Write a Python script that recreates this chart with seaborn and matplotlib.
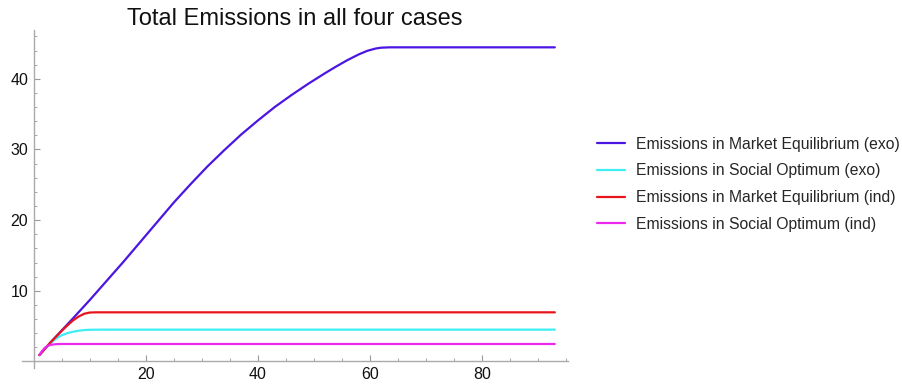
import numpy as np
import pandas as pd
import matplotlib
matplotlib.use("Agg")
import matplotlib.pyplot as plt
import seaborn as sns
from matplotlib.ticker import MultipleLocator

# ---- data ----
me_exo_x = [1, 3, 5, 7, 10, 13, 16, 19, 22, 25, 28, 31, 34, 37, 40, 43, 46, 49, 52, 54, 56, 58, 59.5, 61, 62, 63.5, 93]
me_exo_y = [0.9, 2.7, 4.4, 6.1, 8.7, 11.4, 14.1, 16.9, 19.7, 22.5, 25.1, 27.6, 29.9, 32.1, 34.1, 36.0, 37.7, 39.3, 40.8, 41.75, 42.65, 43.45, 43.95, 44.28, 44.4, 44.45, 44.45]

so_exo_x = [1, 2, 3, 4, 5, 6, 7, 8, 9, 10, 12, 93]
so_exo_y = [0.9, 1.85, 2.6, 3.25, 3.72, 4.0, 4.2, 4.35, 4.44, 4.48, 4.5, 4.5]

me_ind_x = [1, 3, 5, 6, 7, 8, 9, 10, 11, 93]
me_ind_y = [0.9, 2.7, 4.35, 5.1, 5.8, 6.35, 6.75, 6.92, 6.95, 6.95]

so_ind_x = [1, 1.5, 2, 2.5, 3, 4, 5, 93]
so_ind_y = [0.9, 1.5, 1.95, 2.2, 2.35, 2.45, 2.47, 2.47]

labels = [
    "Emissions in Market Equilibrium (exo)",
    "Emissions in Social Optimum (exo)",
    "Emissions in Market Equilibrium (ind)",
    "Emissions in Social Optimum (ind)",
]
title = "Total Emissions in all four cases"

colors = ["#4B16E2", "#3FEEF2", "#E8141C", "#EC28EC"]

series = [(me_exo_x, me_exo_y), (so_exo_x, so_exo_y), (me_ind_x, me_ind_y), (so_ind_x, so_ind_y)]
frames = []
for lab, (xs, ys) in zip(labels, series):
    frames.append(pd.DataFrame({"t": xs, "E": ys, "case": lab}))
df = pd.concat(frames, ignore_index=True)

sns.set_style("white")
plt.rcParams["font.family"] = ["Liberation Sans", "DejaVu Sans"]

fig = plt.figure(figsize=(9.03, 3.86), dpi=100)
ax = fig.add_axes([0.0244, 0.0466, 0.6043, 0.8756])

sns.lineplot(data=df, x="t", y="E", hue="case", hue_order=labels,
             palette=dict(zip(labels, colors)), linewidth=1.6, ax=ax,
             legend=False, sort=False)
for ln in ax.lines:
    ln.set_solid_joinstyle("round")
    ln.set_solid_capstyle("round")

ax.set_xlim(-2.1, 95.3)
ax.set_ylim(-0.93, 46.9)
ax.set_xlabel("")
ax.set_ylabel("")

for side in ["top", "right"]:
    ax.spines[side].set_visible(False)
ax.spines["left"].set_position(("data", 0))
ax.spines["bottom"].set_position(("data", 0))
for side in ["left", "bottom"]:
    ax.spines[side].set_color("#aaaaaa")
    ax.spines[side].set_linewidth(1.0)
ax.spines["left"].set_bounds(-0.93, 46.9)
ax.spines["bottom"].set_bounds(-2.1, 95.3)

ax.xaxis.set_major_locator(MultipleLocator(20))
ax.xaxis.set_minor_locator(MultipleLocator(5))
ax.yaxis.set_major_locator(MultipleLocator(10))
ax.yaxis.set_minor_locator(MultipleLocator(2))
ax.set_xticks([20, 40, 60, 80])
ax.set_yticks([10, 20, 30, 40])
ax.tick_params(which="both", bottom=True, left=True, top=False, right=False)
ax.tick_params(which="major", direction="in", length=4, width=0.8, color="#999999",
               labelsize=11.5, labelcolor="#111111", pad=4)
ax.tick_params(which="minor", direction="in", length=2.3, width=0.6, color="#999999")

ax.set_title(title, fontsize=17, color="#111111", pad=3)

handles = [plt.Line2D([], [], color=c, linewidth=1.6) for c in colors]
fig.legend(handles, labels, loc="center left", bbox_to_anchor=(0.661, 0.5225),
           frameon=False, fontsize=11.3, handlelength=1.8, handletextpad=0.7,
           labelspacing=0.75, borderpad=0, borderaxespad=0)

fig.savefig("out.png", dpi=100)
